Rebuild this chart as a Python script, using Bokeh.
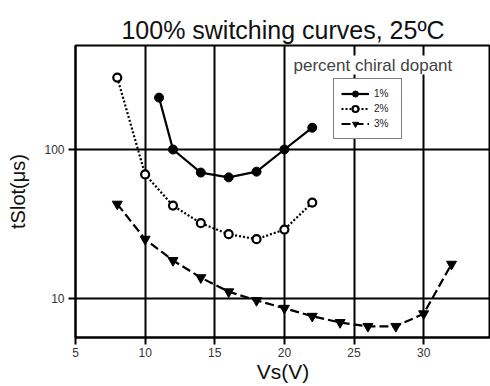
from bokeh.plotting import figure
from bokeh.models import FixedTicker, Legend, LegendItem, Label, Range1d, PrintfTickFormatter
from bokeh.embed import file_html
from bokeh.resources import INLINE

# Data
vs_1 = [11, 12, 14, 16, 18, 20, 22]
t_1 = [223, 100, 70, 65, 71, 100, 140]
vs_2 = [8, 10, 12, 14, 16, 18, 20, 22]
t_2 = [304, 68, 42, 32, 27, 25, 29, 44]
vs_3 = [8, 10, 12, 14, 16, 18, 20, 22, 24, 26, 28, 30, 32]
t_3 = [43, 25, 18, 13.8, 11.1, 9.7, 8.6, 7.6, 6.9, 6.5, 6.5, 7.9, 17]
series_labels = ["1%", "2%", "3%"]
x_ticks = [5, 10, 15, 20, 25, 30, 35]
y_ticks = [10, 100]

p = figure(y_axis_type="log", x_range=Range1d(5, 34.8), y_range=Range1d(5.47, 499),
           frame_width=415, frame_height=292, min_border_left=75, min_border_right=0,
           min_border_top=45, min_border_bottom=49,
           output_backend="svg", toolbar_location=None,
           title="100% switching curves, 25ºC")
p.title.text_font = "Liberation Sans"
p.title.text_font_size = "25px"
p.title.text_font_style = "normal"
p.title.align = "center"
p.title.text_color = "#111111"
p.title.standoff = 3

p.outline_line_color = "black"
p.outline_line_width = 2
p.background_fill_color = "white"
p.border_fill_color = "white"

for ax in (p.xaxis[0], p.yaxis[0]):
    ax.axis_line_color = "black"
    ax.axis_line_width = 2
    ax.major_tick_line_color = "black"
    ax.major_tick_line_width = 2
    ax.major_tick_out = 7
    ax.major_tick_in = 0
    ax.minor_tick_line_color = None
    ax.major_label_text_font = "Liberation Sans"
    ax.major_label_text_font_size = "12px"
    ax.major_label_text_color = "#333333"
    ax.axis_label_text_font = "Liberation Sans"
    ax.axis_label_text_font_style = "normal"
    ax.axis_label_text_color = "#111111"

p.xaxis.major_label_standoff = 3
p.yaxis.major_label_standoff = 4
p.xaxis.ticker = FixedTicker(ticks=x_ticks)
p.yaxis.ticker = FixedTicker(ticks=y_ticks)
p.yaxis.formatter = PrintfTickFormatter(format="%d")
p.xaxis.axis_label = "Vs(V)"
p.xaxis.axis_label_text_font_size = "21px"
p.xaxis.axis_label_standoff = 0
p.yaxis.axis_label = "tSlot(μs)"
p.yaxis.axis_label_text_font_size = "20px"
p.yaxis.axis_label_standoff = 12

p.xgrid.ticker = FixedTicker(ticks=x_ticks)
p.ygrid.ticker = FixedTicker(ticks=y_ticks)
for g in (p.xgrid[0], p.ygrid[0]):
    g.grid_line_color = "black"
    g.grid_line_width = 2
    g.grid_line_alpha = 1.0

l1 = p.line(vs_1, t_1, line_color="black", line_width=2.2)
m1 = p.scatter(vs_1, t_1, marker="circle", size=9, fill_color="black", line_color="black")
l2 = p.line(vs_2, t_2, line_color="black", line_width=2.2, line_dash="2 2")
m2 = p.scatter(vs_2, t_2, marker="circle", size=8, fill_color="white", line_color="black", line_width=2.2)
l3 = p.line(vs_3, t_3, line_color="black", line_width=2.2, line_dash="9 4")
m3 = p.scatter(vs_3, t_3, marker="inverted_triangle", size=10, fill_color="black", line_color="black")

title_lbl = Label(x=218, y=263, x_units="screen", y_units="screen",
                  text="percent chiral dopant", text_font="Liberation Sans",
                  text_font_size="17px", text_color="#444444",
                  background_fill_color="white", background_fill_alpha=1.0)
p.add_layout(title_lbl)

legend = Legend(items=[LegendItem(label=series_labels[0], renderers=[l1, m1]),
                       LegendItem(label=series_labels[1], renderers=[l2, m2]),
                       LegendItem(label=series_labels[2], renderers=[l3, m3])],
                location=(258, 198), orientation="vertical")
legend.label_text_font = "Liberation Sans"
legend.label_text_font_size = "10px"
legend.label_text_color = "#222222"
legend.label_height = 15
legend.glyph_height = 15
legend.glyph_width = 28
legend.label_standoff = 5
legend.spacing = 0
legend.padding = 7
legend.margin = 0
legend.border_line_color = "black"
legend.border_line_width = 1.5
legend.background_fill_color = "white"
legend.background_fill_alpha = 1.0
p.add_layout(legend, "center")

open("out.html", "w").write(file_html(p, INLINE))
